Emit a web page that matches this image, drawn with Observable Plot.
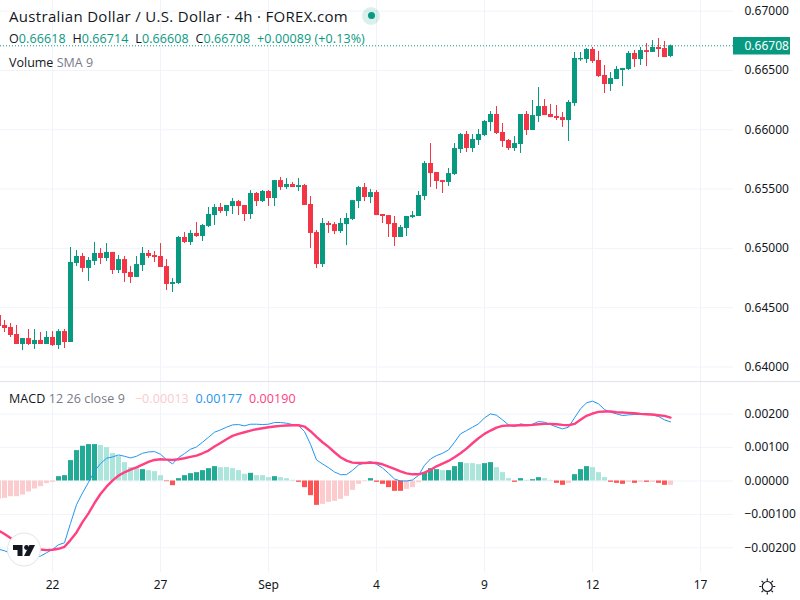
<!DOCTYPE html>
<html>
<head>
<meta charset="utf-8">
<script src="https://cdn.jsdelivr.net/npm/d3@7"></script>
<script src="https://cdn.jsdelivr.net/npm/@observablehq/plot@0.6"></script>
<style>
html,body{margin:0;padding:0;background:#fff;}
#page{position:relative;width:800px;height:600px;overflow:hidden;font-family:"Open Sans",sans-serif;color:#131722;}
#price,#macd{position:absolute;left:0;}
#price{top:0;}
#macd{top:382px;}
.t{position:absolute;white-space:pre;line-height:16px;}
.up{color:#089981;}
.gray{color:#787b86;}
svg{display:block;}
</style>
</head>
<body>
<div id="page">
  <div id="price"></div>
  <div id="macd"></div>
  <div style="position:absolute;left:0;top:381px;width:800px;height:1px;background:#e0e3eb"></div>
  <div class="t" id="title" style="left:9px;top:8px;font-size:15px;letter-spacing:.32px;"></div>
  <div style="position:absolute;left:362px;top:6.5px;width:18px;height:18px;border-radius:50%;background:rgba(8,153,129,.15)"></div>
  <div style="position:absolute;left:367.5px;top:12px;width:7px;height:7px;border-radius:50%;background:#089981"></div>
  <div class="t" id="ohlc" style="left:9px;top:31px;font-size:12.5px;letter-spacing:.1px;"></div>
  <div class="t" id="vol" style="left:9px;top:55px;font-size:12.5px;"></div>
  <div class="t" id="macdLegend" style="left:9px;top:391px;font-size:12.5px;letter-spacing:.08px;"></div>
  <svg style="position:absolute;left:0;top:0;pointer-events:none" width="800" height="600">
    <circle cx="24" cy="549.5" r="16.5" fill="#fff" stroke="#e0e3eb" stroke-width="1"/>
    <path d="M13 545H22.5V556H17.5V550H13Z" fill="#131722"/>
    <circle cx="26.5" cy="547.5" r="2.4" fill="#131722"/>
    <path d="M29.5 545H35L29.5 556H24Z" fill="#131722"/>
    <g stroke="#131722" stroke-width="1.2" fill="none">
      <circle cx="767.3" cy="586.5" r="5"/>
      <path d="M767.3 578.5v2.2M767.3 592.3v2.2M759.3 586.5h2.2M773.1 586.5h2.2M761.6 580.8l1.6 1.6M771.4 590.6l1.6 1.6M761.6 592.2l1.6-1.6M771.4 582.4l1.6-1.6"/>
    </g>
  </svg>
</div>
<script>
// Chart text
const symbolTitle = "Australian Dollar / U.S. Dollar · 4h · FOREX.com";
const ohlcLegend = [["O","0.66618"],["H","0.66714"],["L","0.66608"],["C","0.66708"]];
const changeLegend = "+0.00089 (+0.13%)";
const macdLegendValues = ["−0.00013","0.00177","0.00190"];

// Time axis: bar index -> label
const tickBars = [8,26,44,62,80,98,116];
const tickLabels = ["22","27","Sep","4","9","12","17"];
const firstBar = -1;

// Price axis
const priceTicks = [0.64,0.645,0.65,0.655,0.66,0.665,0.67];
const macdTicks = [-0.002,-0.001,0,0.001,0.002];

// Candles, in units of 0.00001
const opens = [64434,64350,64333,64274,64190,64240,64190,64224,64190,64249,
64181,64299,64207,64873,64932,64831,64890,64957,64915,64966,
64814,64906,64797,64755,64856,64957,64940,64932,64847,64696,
64704,65092,65050,65126,65100,65185,65277,65345,65311,65353,
65395,65362,65286,65463,65395,65480,65421,65572,65513,65539,
65513,65530,65370,65134,64864,65210,65201,65142,65201,65244,
65395,65513,65429,65471,65286,65277,65210,65092,65168,65260,
65269,65438,65716,65640,65572,65556,65623,65834,65960,65842,
65910,65952,66061,66129,65977,65910,65842,65876,66129,65994,
66112,66196,66129,66112,66103,66078,66221,66590,66593,66677,
66584,66458,66382,66424,66500,66508,66643,66592,66668,66652,
66694,66685,66618];
const highs = [64448,64392,64367,64350,64240,64316,64316,64291,64299,64299,
64316,64316,65008,64982,64957,64923,65050,64999,65041,64966,
64940,64932,64847,64932,65008,64982,64974,65041,64906,64746,
65100,65134,65151,65218,65201,65345,65370,65379,65362,65421,
65404,65362,65488,65471,65488,65488,65572,65598,65589,65556,
65589,65539,65438,65151,65252,65227,65218,65252,65294,65403,
65522,65547,65497,65488,65286,65277,65269,65193,65269,65311,
65480,65733,65884,65640,65572,65674,65884,65969,65986,65960,
66002,66078,66154,66196,66053,65918,65943,66129,66154,66247,
66356,66255,66213,66205,66146,66247,66652,66652,66685,66694,
66660,66542,66483,66533,66517,66660,66668,66694,66727,66753,
66770,66744,66714];
const lows = [64330,64291,64249,64190,64139,64181,64148,64190,64190,64173,
64148,64156,64207,64847,64797,64721,64856,64864,64890,64780,
64788,64713,64704,64755,64805,64915,64881,64839,64645,64628,
64696,65041,65024,65092,65058,65176,65193,65294,65269,65286,
65277,65227,65244,65353,65387,65353,65353,65488,65497,65513,
65480,65362,64999,64830,64839,65126,65117,65126,65024,65235,
65336,65395,65378,65277,65210,65092,65016,65092,65100,65252,
65269,65404,65513,65497,65463,65522,65615,65800,65808,65808,
65868,65943,65985,65960,65851,65825,65817,65800,65952,65994,
66061,66120,66103,66078,66019,65901,66196,66576,66559,66559,
66441,66306,66323,66424,66365,66500,66525,66542,66533,66652,
66609,66609,66608];
const closes = [64342,64325,64266,64190,64240,64190,64224,64190,64249,64181,
64299,64207,64881,64932,64831,64898,64957,64915,64966,64814,
64906,64788,64755,64864,64957,64932,64923,64839,64696,64713,
65092,65050,65126,65100,65193,65286,65345,65311,65362,65395,
65353,65286,65463,65395,65480,65421,65572,65513,65539,65513,
65530,65362,65126,64864,65210,65193,65142,65210,65252,65403,
65513,65429,65471,65277,65269,65201,65092,65176,65269,65277,
65446,65716,65631,65564,65556,65631,65842,65960,65842,65918,
65960,66070,66129,65969,65901,65842,65884,66129,65994,66120,
66196,66120,66103,66095,66078,66230,66601,66601,66677,66576,
66449,66382,66432,66508,66517,66643,66592,66668,66652,66694,
66677,66609,66708];

// MACD, in units of 0.00001
const histogram = [-54,-52,-47,-47,-42,-33,-24,-17,-8,-4,
13,16,61,91,104,109,109,106,100,82,
73,55,40,37,34,31,28,16,-2,-14,
7,16,22,25,31,37,43,40,40,37,
31,20,23,16,16,10,13,10,7,2,
-4,-20,-44,-73,-70,-64,-61,-55,-46,-28,
-10,-2,7,-4,-10,-20,-31,-31,-25,-20,
-5,25,37,34,31,31,43,55,52,52,
49,52,55,40,25,7,-4,7,2,4,
10,7,2,-7,-13,-7,19,34,43,40,
25,10,-4,-7,-10,-4,-7,-4,-4,-4,
-7,-13,-13];
const histStrong = [0,0,0,0,0,0,0,0,0,0,
1,1,1,1,1,1,1,0,0,0,
0,0,0,0,1,0,0,0,1,1,
1,1,1,1,1,1,1,0,0,0,
0,0,1,0,0,0,1,0,0,0,
1,1,1,1,0,0,0,0,0,0,
0,0,1,1,1,1,1,1,0,0,
0,1,1,1,0,1,1,1,0,0,
0,1,1,0,0,0,1,1,0,1,
1,0,0,1,1,0,1,1,1,0,
0,0,1,1,1,0,1,0,1,0,
1,1,0];
const macdLine = [-204,-209,-216,-221,-225,-228,-229,-225,-215,-205,
-191,-185,-127,-71,-36,-4,29,52,68,72,
78,74,69,74,83,87,88,80,64,51,
70,82,95,102,116,131,146,153,161,168,
169,165,170,170,169,170,175,175,173,169,
166,148,110,63,51,40,27,19,19,32,
48,54,58,50,39,23,6,0,0,3,
17,47,66,76,83,93,116,141,151,161,
171,189,201,197,183,168,163,171,168,170,
178,176,169,162,156,161,189,216,234,239,
231,214,206,201,196,198,199,199,199,198,
193,183,177];
const signalLine = [-148,-159,-171,-181,-191,-198,-202,-205,-207,-206,
-203,-197,-177,-154,-123,-97,-66,-39,-17,1,
16,26,34,41,49,57,63,65,64,63,
65,68,72,76,83,91,103,114,125,135,
141,146,151,155,158,161,163,165,166,167,
167,163,149,132,116,102,86,71,61,55,
54,54,55,54,50,43,36,29,23,20,
20,25,33,44,52,60,71,83,97,113,
128,141,151,160,165,166,166,167,167,168,
170,171,171,170,168,167,171,183,195,202,
207,208,208,206,205,204,203,201,200,199,
197,195,190];

const UP="#089981", DOWN="#f23645", GRID="#f0f3fa", TEXT="#131722";
const scale = 1e5;
const bars = opens.map((o,k)=>({
  bar:k+firstBar, o:o/scale, h:highs[k]/scale, l:lows[k]/scale, c:closes[k]/scale,
  dir: closes[k]>=o ? "up":"down",
  hist:histogram[k]/scale, macd:macdLine[k]/scale, signal:signalLine[k]/scale,
  shade:(histogram[k]>=0?"pos":"neg")+(histStrong[k]?"Strong":"Weak")
}));
const last = bars[bars.length-1];
const xDomain=[-0.6667,121.5];
const barsPerPx=(xDomain[1]-xDomain[0])/733;
const tickText=new Map(tickBars.map((b,k)=>[b,tickLabels[k]]));

const pricePlot = Plot.plot({
  width:800,height:381,marginLeft:0,marginRight:67,marginTop:0,marginBottom:0,
  style:{background:"transparent"},
  x:{domain:xDomain,axis:null},
  y:{domain:[0.63878,0.6709],axis:null},
  color:{domain:["up","down"],range:[UP,DOWN]},
  marks:[
    Plot.gridY(priceTicks,{stroke:GRID,strokeOpacity:1}),
    Plot.gridX(tickBars,{stroke:GRID,strokeOpacity:1}),
    Plot.ruleX(bars,{x:"bar",y1:"l",y2:"h",stroke:"dir",strokeWidth:1}),
    Plot.ruleX(bars,{x:"bar",y1:"o",y2:"c",stroke:"dir",strokeWidth:5}),
    Plot.ruleY([last.c],{stroke:UP,strokeDasharray:"1,2",strokeWidth:1}),
    Plot.ruleY([last.c],{x1:xDomain[1],x2:xDomain[1]+57*barsPerPx,stroke:UP,strokeWidth:17.5}),
    Plot.text([last.c],{y:d=>d,frameAnchor:"right",dx:11,textAnchor:"start",text:d3.format(".5f"),fill:"#fff",fontSize:12}),
    Plot.axisY(priceTicks,{anchor:"right",tickSize:0,tickPadding:11,tickFormat:d3.format(".5f"),fontSize:12,label:null,color:TEXT})
  ]
});
document.getElementById("price").append(pricePlot);

const macdPlot = Plot.plot({
  width:800,height:218,marginLeft:0,marginRight:67,marginTop:0,marginBottom:28,
  style:{background:"transparent"},
  x:{domain:xDomain,axis:null},
  y:{domain:[-0.00274,0.002949],axis:null},
  color:{domain:["posStrong","posWeak","negStrong","negWeak"],range:["#22ab94","#ace5dc","#ff5252","#fccbcd"]},
  marks:[
    Plot.gridY(macdTicks,{stroke:GRID,strokeOpacity:1}),
    Plot.gridX(tickBars,{stroke:GRID,strokeOpacity:1}),
    Plot.ruleX(bars,{x:"bar",y1:0,y2:"hist",stroke:"shade",strokeWidth:5}),
    Plot.line(bars,{x:"bar",y:"macd",stroke:"#2196f3",strokeWidth:1,curve:"linear"}),
    Plot.line(bars,{x:"bar",y:"signal",stroke:"#ff4081",strokeWidth:2.4,curve:"linear"}),
    Plot.axisY(macdTicks,{anchor:"right",tickSize:0,tickPadding:11,tickFormat:d3.format(".5f"),fontSize:12,label:null,color:TEXT}),
    Plot.axisX(tickBars,{anchor:"bottom",tickSize:0,tickPadding:8,tickFormat:d=>tickText.get(d),fontSize:12,label:null,color:TEXT})
  ]
});
document.getElementById("macd").append(macdPlot);

document.getElementById("title").textContent=symbolTitle;
document.getElementById("ohlc").innerHTML=ohlcLegend.map(([k,v])=>`${k}<span class="up">${v}</span>`).join("  ")+`  <span class="up">${changeLegend}</span>`;
document.getElementById("vol").innerHTML=`Volume <span class="gray">SMA 9</span>`;
document.getElementById("macdLegend").innerHTML=`MACD <span class="gray">12 26 close 9</span>   <span style="color:#fccbcd">${macdLegendValues[0]}</span>  <span style="color:#2196f3">${macdLegendValues[1]}</span>  <span style="color:#ff4081">${macdLegendValues[2]}</span>`;
</script>
</body>
</html>
